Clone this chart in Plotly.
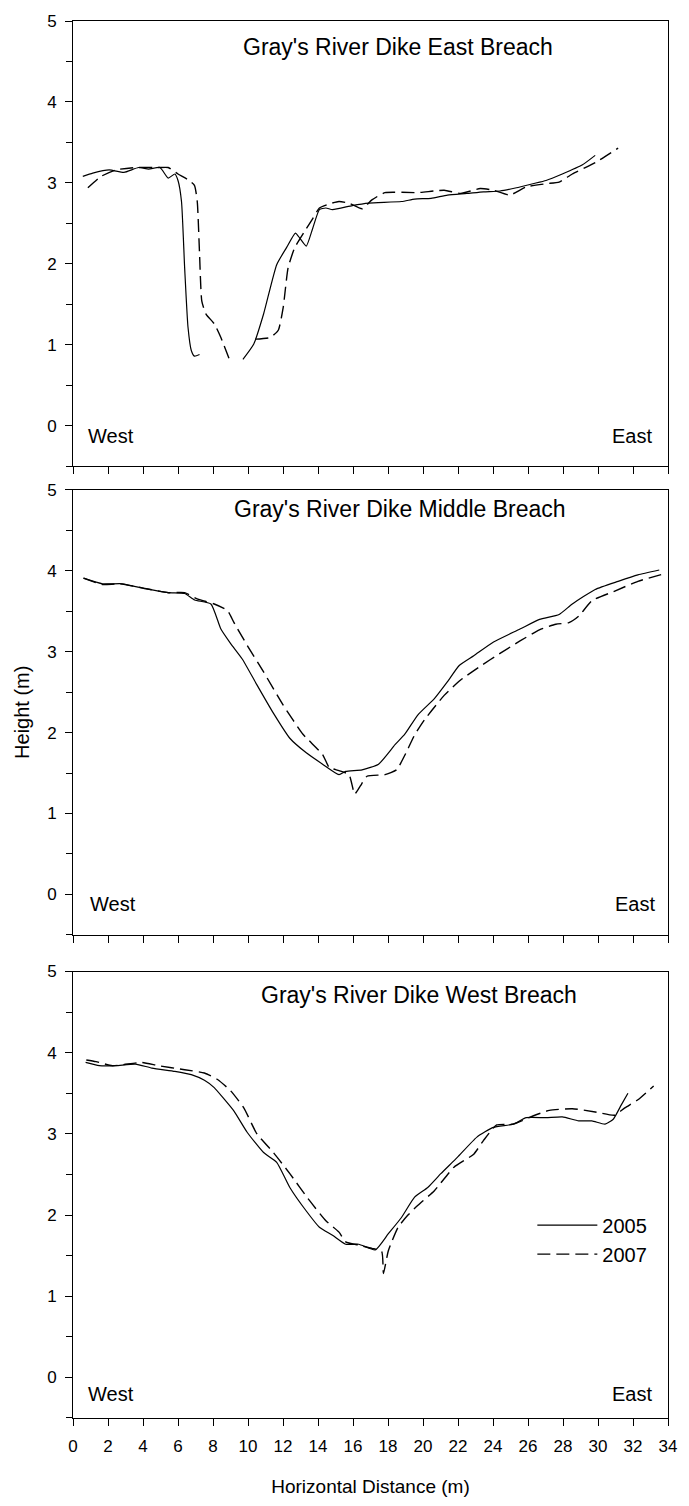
import plotly.graph_objs as go

# East breach (top panel), None marks the gap at the channel bottom
east_x_2005 = [0.56, 1.13, 2.07, 2.91, 3.75, 4.32, 4.97, 5.44, 5.82, 6.0, 6.2, 6.38, 6.57, 6.76, 6.94, 7.23,
               None,
               9.71, 10.33, 10.89, 11.64, 12.2, 12.71, 12.95, 13.33, 13.7, 14.08, 14.45, 14.83, 15.96, 16.9,
               18.77, 19.52, 20.46, 21.4, 22.5, 23.46, 24.4, 25.34, 26.28, 27.03, 27.96, 29.09, 29.84]
east_y_2005 = [3.08, 3.12, 3.16, 3.13, 3.19, 3.17, 3.19, 3.06, 3.11, 3.03, 2.77, 1.95, 1.22, 0.93, 0.86, 0.88,
               None,
               0.82, 1.01, 1.38, 1.99, 2.2, 2.38, 2.32, 2.22, 2.44, 2.67, 2.69, 2.67, 2.72, 2.75,
               2.77, 2.8, 2.81, 2.85, 2.87, 2.89, 2.9, 2.94, 2.99, 3.03, 3.11, 3.22, 3.34]
east_x_2007 = [0.85, 1.6, 2.44, 3.57, 4.88, 5.44, 6.0, 6.57, 6.94, 7.1, 7.23, 7.36, 7.6, 8.07, 8.45, 8.92,
               None,
               10.42, 11.26, 11.73, 12.01, 12.29, 12.67, 13.23, 13.7, 14.08, 14.64, 15.2, 15.77, 16.52,
               17.08, 17.83, 19.71, 21.21, 22.15, 23.27, 24.02, 24.96, 25.9, 27.03, 27.78, 28.53, 29.84, 31.15]
east_y_2007 = [2.94, 3.08, 3.16, 3.19, 3.19, 3.19, 3.11, 3.04, 2.97, 2.77, 2.13, 1.54, 1.38, 1.26, 1.09, 0.83,
               None,
               1.07, 1.09, 1.18, 1.46, 1.95, 2.2, 2.4, 2.56, 2.69, 2.74, 2.77, 2.75, 2.68,
               2.79, 2.88, 2.88, 2.91, 2.87, 2.93, 2.91, 2.85, 2.95, 2.99, 3.01, 3.11, 3.25, 3.43]

# Middle breach
middle_x_2005 = [0.6, 1.69, 2.82, 4.13, 5.44, 6.38, 6.95, 7.88, 8.45, 9.01, 9.67, 10.51, 11.45, 12.39, 13.33,
                 14.26, 15.2, 15.58, 16.52, 17.46, 18.4, 18.96, 19.71, 20.65, 21.4, 22.07, 22.9, 24.03, 25.54,
                 26.66, 27.78, 28.53, 29.84, 31.15, 32.28, 33.5]
middle_y_2005 = [3.91, 3.84, 3.84, 3.78, 3.73, 3.72, 3.64, 3.59, 3.28, 3.1, 2.91, 2.59, 2.24, 1.93, 1.75,
                 1.61, 1.48, 1.52, 1.54, 1.61, 1.85, 1.98, 2.22, 2.42, 2.63, 2.83, 2.95, 3.12, 3.28,
                 3.4, 3.46, 3.59, 3.77, 3.87, 3.95, 4.01]
middle_x_2007 = [0.6, 1.69, 2.63, 3.94, 5.44, 6.38, 7.13, 8.07, 8.82, 9.2, 9.95, 10.89, 12.01, 13.14, 14.26,
                 14.64, 15.2, 15.77, 16.1, 16.42, 16.8, 17.83, 18.49, 18.96, 19.52, 20.09, 21.21, 22.15,
                 23.27, 24.4, 25.52, 26.65, 27.59, 28.34, 28.9, 29.65, 30.96, 32.28, 33.87]
middle_y_2007 = [3.91, 3.83, 3.84, 3.79, 3.73, 3.73, 3.65, 3.59, 3.51, 3.36, 3.08, 2.75, 2.34, 1.98, 1.73,
                 1.57, 1.53, 1.48, 1.24, 1.34, 1.46, 1.48, 1.54, 1.72, 1.97, 2.16, 2.46, 2.65,
                 2.82, 2.98, 3.13, 3.27, 3.34, 3.36, 3.44, 3.63, 3.75, 3.87, 3.97]

# West breach (bottom panel)
west_x_2005 = [0.72, 1.5, 2.44, 3.57, 4.51, 5.82, 6.76, 7.51, 8.07, 8.63, 9.2, 9.95, 10.89, 11.64, 12.39,
               13.33, 14.08, 14.83, 15.58, 16.33, 17.27, 18.02, 18.77, 19.52, 20.27, 21.02, 21.96, 23.08,
               24.02, 25.15, 25.9, 27.03, 27.96, 28.9, 29.65, 30.4, 30.87, 31.34, 31.71]
west_y_2005 = [3.88, 3.84, 3.84, 3.86, 3.81, 3.77, 3.73, 3.66, 3.57, 3.43, 3.28, 3.02, 2.77, 2.65, 2.34,
               2.05, 1.85, 1.75, 1.64, 1.64, 1.57, 1.77, 1.97, 2.22, 2.34, 2.51, 2.71, 2.96,
               3.08, 3.12, 3.2, 3.2, 3.21, 3.16, 3.16, 3.12, 3.18, 3.36, 3.5]
west_x_2007 = [0.76, 1.31, 2.25, 3.94, 4.88, 6.38, 7.51, 8.26, 9.01, 9.76, 10.51, 11.45, 12.39, 13.51, 14.45,
               15.2, 15.58, 16.33, 17.08, 17.64, 17.74, 18.02, 18.58, 19.14, 19.71, 20.65, 21.77, 22.9,
               23.46, 24.21, 25.15, 26.28, 27.22, 28.53, 29.84, 30.96, 31.53, 32.28, 33.18]
west_y_2007 = [3.91, 3.89, 3.84, 3.88, 3.84, 3.79, 3.75, 3.67, 3.53, 3.32, 3.0, 2.77, 2.51, 2.18, 1.93,
               1.79, 1.67, 1.63, 1.59, 1.55, 1.28, 1.56, 1.85, 2.0, 2.12, 2.3, 2.59, 2.75,
               2.92, 3.11, 3.12, 3.22, 3.29, 3.31, 3.27, 3.23, 3.32, 3.42, 3.59]

panel_titles = ["Gray's River Dike East Breach", "Gray's River Dike Middle Breach",
                "Gray's River Dike West Breach"]
years = ['2005', '2007']
x_ticks = list(range(0, 35, 2))
y_ticks = list(range(0, 6))

FONT = 'Arial, Liberation Sans, sans-serif'
DASH = '13px,6px'

panels = [
    (east_x_2005, east_y_2005, east_x_2007, east_y_2007),
    (middle_x_2005, middle_y_2005, middle_x_2007, middle_y_2007),
    (west_x_2005, west_y_2005, west_x_2007, west_y_2007),
]
domains = [[0.6813, 1.0], [0.3459, 0.6643], [0.0, 0.3196]]
title_pos = [(18.59, 4.68), (18.68, 4.76), (19.77, 4.71)]
west_pos = [(0.72, -0.13), (0.85, -0.12), (0.72, -0.2)]
east_pos = [(33.19, -0.13), (33.37, -0.12), (33.19, -0.2)]

traces = []
annotations = []
layout = go.Layout(width=689, height=1506,
                   paper_bgcolor='white', plot_bgcolor='white',
                   margin=dict(l=73, r=12, t=18, b=80),
                   font=dict(family=FONT, size=16, color='black'),
                   showlegend=True,
                   legend=dict(x=0.772, y=0.152, xanchor='left', yanchor='top',
                               bgcolor='rgba(0,0,0,0)', font=dict(size=20),
                               itemwidth=60, tracegroupgap=0))

for i, (x5, y5, x7, y7) in enumerate(panels):
    n = i + 1
    xa = 'x' if n == 1 else 'x%d' % n
    ya = 'y' if n == 1 else 'y%d' % n
    last = (n == 3)
    traces.append(go.Scatter(x=x5, y=y5, mode='lines', name=years[0], xaxis=xa, yaxis=ya,
                             line=dict(color='black', width=1.2, shape='spline', smoothing=0.5),
                             showlegend=last, connectgaps=False))
    traces.append(go.Scatter(x=x7, y=y7, mode='lines', name=years[1], xaxis=xa, yaxis=ya,
                             line=dict(color='black', width=1.4, dash=DASH, shape='spline', smoothing=0.5),
                             showlegend=last, connectgaps=False))

    layout['xaxis' if n == 1 else 'xaxis%d' % n] = dict(
        domain=[0, 1], anchor=ya, range=[0, 34], tickvals=x_ticks,
        showticklabels=last, ticks='outside', ticklen=7, tickcolor='black',
        showline=True, linecolor='black', linewidth=1, mirror=True,
        showgrid=False, zeroline=False, ticklabelstandoff=6,
        tickfont=dict(size=17),
        title=dict(text='Horizontal Distance (m)' if last else '', font=dict(size=19), standoff=24))
    layout['yaxis' if n == 1 else 'yaxis%d' % n] = dict(
        domain=domains[i], anchor=xa, range=[-0.5, 5], tickvals=y_ticks,
        ticks='outside', ticklen=7, tickcolor='black',
        minor=dict(tickvals=[-0.5, 0.5, 1.5, 2.5, 3.5, 4.5], ticks='outside', ticklen=6, tickcolor='black'),
        showline=True, linecolor='black', linewidth=1, mirror=True,
        showgrid=False, zeroline=False, ticklabelstandoff=5,
        tickfont=dict(size=17))

    annotations.append(dict(x=title_pos[i][0], y=title_pos[i][1], xref=xa, yref=ya, text=panel_titles[i],
                            showarrow=False, xanchor='center', yanchor='middle', font=dict(size=23)))
    annotations.append(dict(x=west_pos[i][0], y=west_pos[i][1], xref=xa, yref=ya, text='West',
                            showarrow=False, xanchor='left', yanchor='middle', font=dict(size=20)))
    annotations.append(dict(x=east_pos[i][0], y=east_pos[i][1], xref=xa, yref=ya, text='East',
                            showarrow=False, xanchor='right', yanchor='middle', font=dict(size=20)))

annotations.append(dict(x=-0.0855, y=0.5048, xref='paper', yref='paper', text='Height (m)',
                        textangle=-90, showarrow=False, xanchor='center', yanchor='middle',
                        font=dict(size=20)))
layout['annotations'] = annotations

fig = go.Figure(data=traces, layout=layout)
# the page body keeps its default 8px margin otherwise, which shifts the whole figure
fig.write_html("out.html", config={'displayModeBar': False},
               post_script="document.body.style.margin='0';")
